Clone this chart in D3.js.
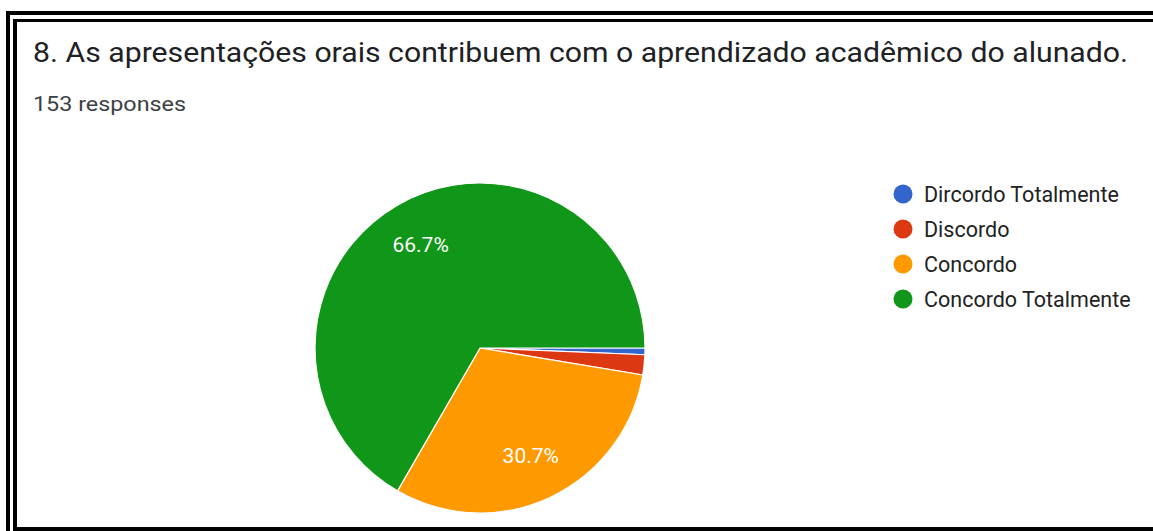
<!DOCTYPE html>
<meta charset="utf-8">
<style>
body { margin: 0; background: #fff; }
text { font-family: Roboto, "Noto Sans", sans-serif; }
</style>
<svg width="1153" height="531"></svg>
<script src="https://cdn.jsdelivr.net/npm/d3@7"></script>
<script>

var title = "8. As apresentações orais contribuem com o aprendizado acadêmico do alunado.",
    subtitle = "153 responses";

var categories = ["Dircordo Totalmente", "Discordo", "Concordo", "Concordo Totalmente"],
    counts = [1, 3, 47, 102],
    colors = ["#3366cc", "#dc3912", "#ff9900", "#109618"];

var svg = d3.select("svg"),
    width = +svg.attr("width"),
    height = +svg.attr("height");

// double black frame, cut off at right
var frame = svg.append("g").attr("fill", "#000");
frame.append("rect").attr("x", 6).attr("y", 11).attr("width", width).attr("height", 4);
frame.append("rect").attr("x", 6).attr("y", 11).attr("width", 4).attr("height", height);
frame.append("rect").attr("x", 13).attr("y", 19).attr("width", width).attr("height", 3);
frame.append("rect").attr("x", 13).attr("y", 19).attr("width", 4).attr("height", height);
frame.append("rect").attr("x", 13).attr("y", 527).attr("width", width).attr("height", 4);

svg.append("text")
    .attr("x", 33)
    .attr("y", 62)
    .attr("fill", "#202124")
    .attr("textLength", 1095)
    .attr("lengthAdjust", "spacingAndGlyphs")
    .style("font-size", "27px")
    .text(title);

svg.append("text")
    .attr("x", 33)
    .attr("y", 111)
    .attr("fill", "#3c4043")
    .attr("textLength", 153)
    .attr("lengthAdjust", "spacingAndGlyphs")
    .style("font-size", "20px")
    .text(subtitle);

var cx = 480, cy = 348, r = 165;

var pie = d3.pie()
    .sort(null)
    .startAngle(Math.PI / 2)
    .endAngle(Math.PI / 2 + 2 * Math.PI);

var arc = d3.arc().innerRadius(0).outerRadius(r);
var labelArc = d3.arc().innerRadius(r * 0.72).outerRadius(r * 0.72);

var total = d3.sum(counts);
var arcs = pie(counts);

var g = svg.append("g").attr("transform", "translate(" + cx + "," + cy + ")");

g.selectAll("path")
    .data(arcs)
  .enter().append("path")
    .attr("d", arc)
    .attr("fill", function(d, i) { return colors[i]; })
    .attr("stroke", "#fff")
    .attr("stroke-width", 1.2);

g.selectAll("text")
    .data(arcs.filter(function(d) { return d.value / total > 0.05; }))
  .enter().append("text")
    .attr("transform", function(d) { return "translate(" + labelArc.centroid(d) + ")"; })
    .attr("text-anchor", "middle")
    .attr("dy", "0.35em")
    .attr("fill", "#fff")
    .style("font-size", "21px")
    .text(function(d) { return (d.value / total * 100).toFixed(1) + "%"; });

var legend = svg.append("g")
  .selectAll("g")
    .data(categories)
  .enter().append("g")
    .attr("transform", function(d, i) { return "translate(903," + (194 + i * 35) + ")"; });

legend.append("circle")
    .attr("r", 9.5)
    .attr("fill", function(d, i) { return colors[i]; });

legend.append("text")
    .attr("x", 21)
    .attr("dy", "0.35em")
    .attr("fill", "#222")
    .style("font-size", "21.5px")
    .text(function(d) { return d; });

</script>
